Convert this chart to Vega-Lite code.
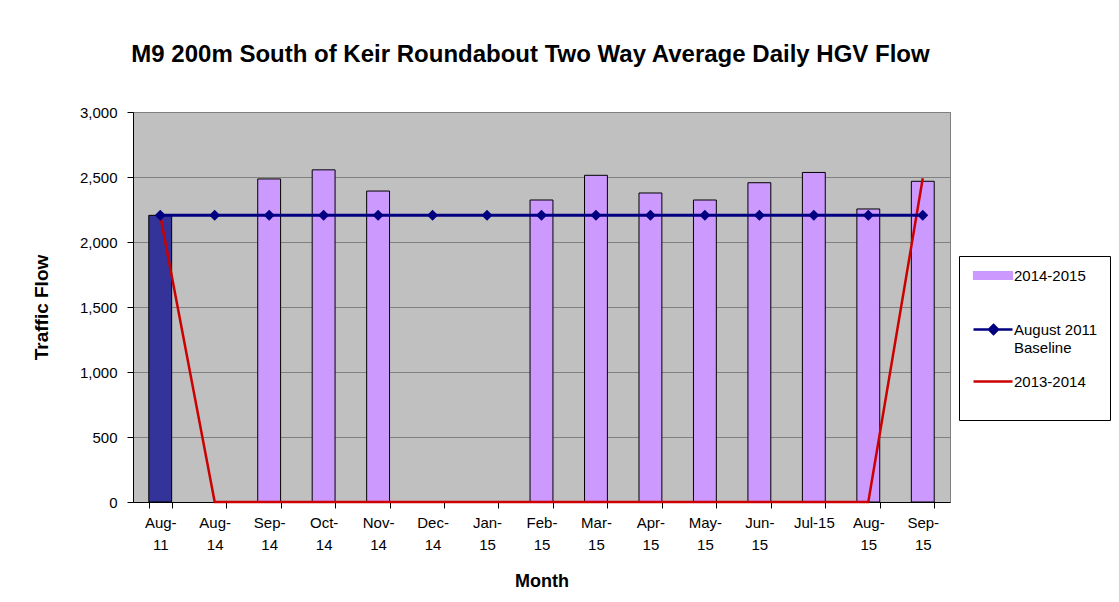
{
  "$schema": "https://vega.github.io/schema/vega-lite/v6.json",
  "width": 817,
  "height": 390,
  "autosize": {"type": "none"},
  "padding": {"left": 133, "top": 112, "right": 169, "bottom": 100},
  "background": "white",
  "title": {
    "text": "M9 200m South of Keir Roundabout Two Way Average Daily HGV Flow",
    "font": "Liberation Sans",
    "fontSize": 24,
    "fontWeight": "bold",
    "color": "black",
    "anchor": "middle",
    "offset": 38,
    "dx": -11
  },
  "config": {
    "view": {"fill": "#C0C0C0", "stroke": "#808080", "strokeWidth": 1},
    "font": "Liberation Sans"
  },
  "data": {
    "values": [
      {"month": "Aug-11", "series": "August 2011", "value": 2205},
      {"month": "Sep-14", "series": "2014-2015", "value": 2485},
      {"month": "Oct-14", "series": "2014-2015", "value": 2555},
      {"month": "Nov-14", "series": "2014-2015", "value": 2392},
      {"month": "Feb-15", "series": "2014-2015", "value": 2323},
      {"month": "Mar-15", "series": "2014-2015", "value": 2513},
      {"month": "Apr-15", "series": "2014-2015", "value": 2377},
      {"month": "May-15", "series": "2014-2015", "value": 2323},
      {"month": "Jun-15", "series": "2014-2015", "value": 2456},
      {"month": "Jul-15", "series": "2014-2015", "value": 2535},
      {"month": "Aug-15", "series": "2014-2015", "value": 2254},
      {"month": "Sep-15", "series": "2014-2015", "value": 2467},
      {"month": "Aug-11", "series": "August 2011 Baseline", "value": 2205},
      {"month": "Aug-14", "series": "August 2011 Baseline", "value": 2205},
      {"month": "Sep-14", "series": "August 2011 Baseline", "value": 2205},
      {"month": "Oct-14", "series": "August 2011 Baseline", "value": 2205},
      {"month": "Nov-14", "series": "August 2011 Baseline", "value": 2205},
      {"month": "Dec-14", "series": "August 2011 Baseline", "value": 2205},
      {"month": "Jan-15", "series": "August 2011 Baseline", "value": 2205},
      {"month": "Feb-15", "series": "August 2011 Baseline", "value": 2205},
      {"month": "Mar-15", "series": "August 2011 Baseline", "value": 2205},
      {"month": "Apr-15", "series": "August 2011 Baseline", "value": 2205},
      {"month": "May-15", "series": "August 2011 Baseline", "value": 2205},
      {"month": "Jun-15", "series": "August 2011 Baseline", "value": 2205},
      {"month": "Jul-15", "series": "August 2011 Baseline", "value": 2205},
      {"month": "Aug-15", "series": "August 2011 Baseline", "value": 2205},
      {"month": "Sep-15", "series": "August 2011 Baseline", "value": 2205},
      {"month": "Aug-11", "series": "2013-2014", "value": 2205},
      {"month": "Aug-14", "series": "2013-2014", "value": 0},
      {"month": "Sep-14", "series": "2013-2014", "value": 0},
      {"month": "Oct-14", "series": "2013-2014", "value": 0},
      {"month": "Nov-14", "series": "2013-2014", "value": 0},
      {"month": "Dec-14", "series": "2013-2014", "value": 0},
      {"month": "Jan-15", "series": "2013-2014", "value": 0},
      {"month": "Feb-15", "series": "2013-2014", "value": 0},
      {"month": "Mar-15", "series": "2013-2014", "value": 0},
      {"month": "Apr-15", "series": "2013-2014", "value": 0},
      {"month": "May-15", "series": "2013-2014", "value": 0},
      {"month": "Jun-15", "series": "2013-2014", "value": 0},
      {"month": "Jul-15", "series": "2013-2014", "value": 0},
      {"month": "Aug-15", "series": "2013-2014", "value": 0},
      {"month": "Sep-15", "series": "2013-2014", "value": 2490}
    ]
  },
  "encoding": {
    "x": {
      "field": "month",
      "type": "nominal",
      "scale": {
        "domain": ["Aug-11", "Aug-14", "Sep-14", "Oct-14", "Nov-14", "Dec-14", "Jan-15", "Feb-15", "Mar-15", "Apr-15", "May-15", "Jun-15", "Jul-15", "Aug-15", "Sep-15"],
        "paddingInner": 0.58,
        "paddingOuter": 0.29
      },
      "axis": {
        "title": "Month",
        "titleFont": "Liberation Sans",
        "titleFontSize": 18,
        "titleFontWeight": "bold",
        "titleColor": "black",
        "titlePadding": 20,
        "labelAngle": 0,
        "labelFont": "Liberation Sans",
        "labelFontSize": 15,
        "labelColor": "black",
        "labelLineHeight": 22,
        "labelPadding": 7,
        "labelExpr": "isValid(datum.value) ? (datum.value == 'Jul-15' ? 'Jul-15' : [split(datum.value, '-')[0] + '-', split(datum.value, '-')[1]]) : ''",
        "tickBand": "extent",
        "tickSize": 6,
        "tickColor": "black",
        "domainColor": "black",
        "grid": false
      }
    },
    "y": {
      "field": "value",
      "type": "quantitative",
      "scale": {"domain": [0, 3000]},
      "axis": {
        "title": "Traffic Flow",
        "titleFont": "Liberation Sans",
        "titleFontSize": 19,
        "titleFontWeight": "bold",
        "titleColor": "black",
        "titlePadding": 28,
        "values": [0, 500, 1000, 1500, 2000, 2500, 3000],
        "format": ",.0f",
        "labelFont": "Liberation Sans",
        "labelFontSize": 15,
        "labelColor": "black",
        "labelPadding": 10,
        "tickSize": 6,
        "tickColor": "black",
        "domainColor": "black",
        "grid": true,
        "gridColor": "#808080",
        "gridWidth": 1
      }
    },
    "color": {
      "field": "series",
      "type": "nominal",
      "scale": {
        "domain": ["2014-2015", "August 2011 Baseline", "2013-2014", "August 2011"],
        "range": ["#CC99FF", "#000080", "#CC0000", "#333399"]
      },
      "legend": {
        "orient": "none",
        "legendX": 826,
        "legendY": 144,
        "title": null,
        "values": ["2014-2015", "August 2011 Baseline", "2013-2014"],
        "strokeColor": "black",
        "fillColor": "white",
        "padding": 12,
        "symbolSize": 400,
        "symbolStrokeColor": "black",
        "symbolStrokeWidth": 1.2,
        "labelFont": "Liberation Sans",
        "labelFontSize": 15,
        "labelColor": "black",
        "labelOffset": 28,
        "labelLimit": 200,
        "labelBaseline": "middle",
        "rowPadding": 18,
        "labelExpr": "datum.label == 'August 2011 Baseline' ? ['August 2011', 'Baseline'] : [datum.label, '']",
        "encode": {
          "labels": {
            "update": {
              "lineHeight": {"value": 18}
            }
          },
          "symbols": {
            "update": {
              "shape": {"signal": "datum.value == '2014-2015' ? 'M-0.5,-0.4H3.4V0.4H-0.5Z' : (datum.value == 'August 2011 Baseline' ? 'M-0.5,0H3.4M1.5,-0.45L1.95,0L1.5,0.45L1.05,0Z' : 'M-0.5,0H3.4')"},
              "fill": {"signal": "datum.value == '2014-2015' ? '#CC99FF' : (datum.value == 'August 2011 Baseline' ? '#000080' : 'transparent')"},
              "stroke": {"signal": "datum.value == '2014-2015' ? '#000000' : (datum.value == 'August 2011 Baseline' ? '#000080' : '#CC0000')"},
              "strokeWidth": {"signal": "datum.value == '2014-2015' ? 1.2 : 2.5"},
              "opacity": {"value": 1},
              "fillOpacity": {"value": 1},
              "strokeOpacity": {"value": 1}
            }
          }
        }
      }
    }
  },
  "layer": [
    {
      "transform": [{"filter": "datum.series == '2014-2015' || datum.series == 'August 2011'"}],
      "mark": {"type": "bar", "stroke": "black", "strokeWidth": 1}
    },
    {
      "transform": [{"filter": "datum.series == '2013-2014'"}],
      "mark": {"type": "line", "strokeWidth": 2.5}
    },
    {
      "transform": [{"filter": "datum.series == 'August 2011 Baseline'"}],
      "mark": {"type": "line", "strokeWidth": 3}
    },
    {
      "transform": [{"filter": "datum.series == 'August 2011 Baseline'"}],
      "mark": {"type": "point", "shape": "diamond", "filled": true, "size": 121, "opacity": 1}
    }
  ]
}
